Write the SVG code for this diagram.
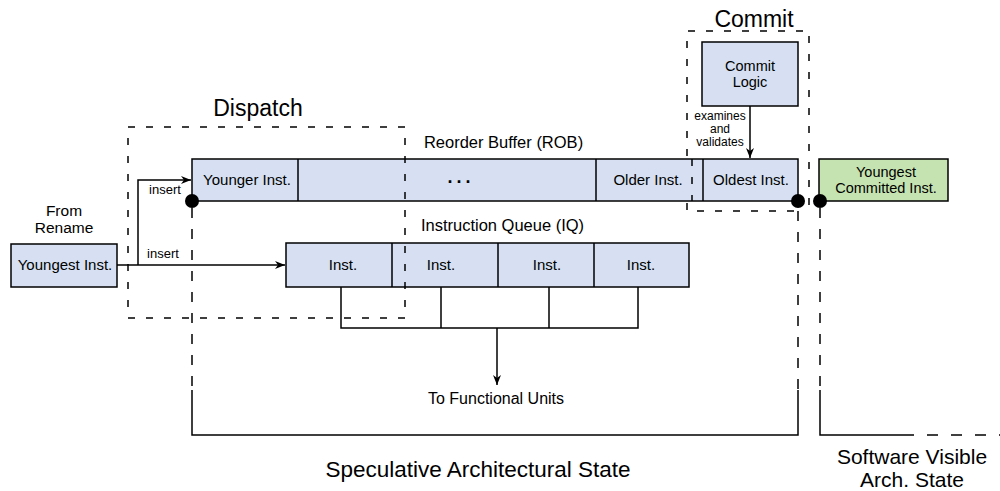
<svg xmlns="http://www.w3.org/2000/svg" width="1000" height="491" viewBox="0 0 1000 491">
<style>
text{font-family:"Liberation Sans",Arial,sans-serif;fill:#000;text-anchor:middle}
.box{fill:#D6E0F2;stroke:#000;stroke-width:1.5}
.green{fill:#C5E3B0;stroke:#000;stroke-width:1.5}
.div{stroke:#000;stroke-width:1.5;fill:none}
.line{stroke:#000;stroke-width:1.5;fill:none}
.stage{stroke:#000;stroke-width:1.5;fill:none;stroke-dasharray:7 11}
.bound{stroke:#000;stroke-width:1.5;fill:none;stroke-dasharray:10 11}
.solid{stroke:#000;stroke-width:1.5;fill:none}
.cell{font-size:15px}
.cell2{font-size:14.5px}
.lbl{font-size:16.5px}
.small{font-size:13px}
.tiny{font-size:12px}
.big{font-size:23px}
</style>
<defs>
<marker id="arr" viewBox="0 0 10 8" refX="10" refY="4" markerWidth="10" markerHeight="8" markerUnits="userSpaceOnUse" orient="auto">
<path d="M0,0 L10,4 L0,8 L3,4 z" fill="#000"/>
</marker>
</defs>

<!-- stage boundaries (under boxes) -->
<g id="commit-stage">
<path class="stage" d="M809,205 V31 H687 V211 H798"/>
<text class="big" x="754" y="27">Commit</text>
</g>
<g id="state-boundaries">
<path class="bound" d="M192,208 V390"/>
<path class="bound" d="M798,211 V390"/>
<path class="bound" d="M820,208 V390"/>
<path class="solid" d="M192,390 V435 H798 V390"/>
<path class="solid" d="M820,390 V435 H913"/>
<path class="bound" d="M913,435 H1000" style="stroke-dasharray:11 13" stroke-dashoffset="-14"/>
<text class="big" x="478" y="477" style="font-size:22.5px">Speculative Architectural State</text>
<text class="big" x="912" y="463.5" style="font-size:21px">Software Visible</text>
<text class="big" x="912" y="487" style="font-size:21px">Arch. State</text>
</g>

<!-- nodes -->
<g id="rename">
<text class="lbl" x="64" y="216" style="font-size:15.5px">From</text>
<text class="lbl" x="64" y="233" style="font-size:15.5px">Rename</text>
<rect class="box" x="11" y="244" width="106" height="43"/>
<text class="cell" x="65" y="270">Youngest Inst.</text>
</g>

<g id="rob">
<text class="lbl" x="503.5" y="148">Reorder Buffer (ROB)</text>
<rect class="box" x="192" y="159" width="606" height="42"/>
<path class="div" d="M298,159 V201 M596,159 V201 M703,159 V201"/>
<text class="cell" x="247" y="185">Younger Inst.</text>
<text x="461" y="183" style="font-size:18px;font-weight:bold;letter-spacing:4px">...</text>
<text class="cell" x="648" y="185">Older Inst.</text>
<text class="cell" x="751" y="185">Oldest Inst.</text>
</g>

<g id="commit-logic">
<rect class="box" x="702" y="42" width="96" height="64"/>
<text class="cell2" x="750" y="71">Commit</text>
<text class="cell2" x="750" y="87">Logic</text>
</g>

<g id="committed">
<rect class="green" x="819" y="159" width="129" height="42"/>
<text class="cell2" x="886" y="176.5">Youngest</text>
<text class="cell2" x="886" y="192.5">Committed Inst.</text>
</g>

<g id="iq">
<text class="lbl" x="502.5" y="231">Instruction Queue (IQ)</text>
<rect class="box" x="286" y="243" width="403" height="44"/>
<path class="div" d="M392,243 V287 M498,243 V287 M594,243 V287"/>
<text class="cell" x="343" y="270">Inst.</text>
<text class="cell" x="441" y="270">Inst.</text>
<text class="cell" x="547" y="270">Inst.</text>
<text class="cell" x="641" y="270">Inst.</text>
</g>

<g id="functional-units">
<text class="lbl" x="496" y="404" style="font-size:16px">To Functional Units</text>
</g>

<!-- connectors -->
<g id="connectors">
<path class="line" d="M117,265 H285" marker-end="url(#arr)"/>
<path class="line" d="M138,265 V180 H191" marker-end="url(#arr)"/>
<text class="small" x="165" y="194">insert</text>
<text class="small" x="163" y="258">insert</text>
<path class="line" d="M750,106 V158" marker-end="url(#arr)"/>
<text class="tiny" x="720" y="119.5">examines</text>
<text class="tiny" x="720" y="132.8">and</text>
<text class="tiny" x="720" y="146">validates</text>
<path class="line" d="M341,287 V328 H638 V287 M441,287 V328 M549,287 V328"/>
<path class="line" d="M497,328 V385" marker-end="url(#arr)"/>
</g>

<!-- dashed stage edges drawn over boxes -->
<g id="dispatch-stage">
<path class="stage" d="M405,127 H128 V318 H405 Z"/>
<path class="stage" d="M692,159 V201"/>
<text class="big" x="258" y="116">Dispatch</text>
</g>

<g id="state-dots">
<circle cx="192" cy="201" r="7" fill="#000"/>
<circle cx="798" cy="201" r="7" fill="#000"/>
<circle cx="820" cy="201" r="7" fill="#000"/>
</g>
</svg>
